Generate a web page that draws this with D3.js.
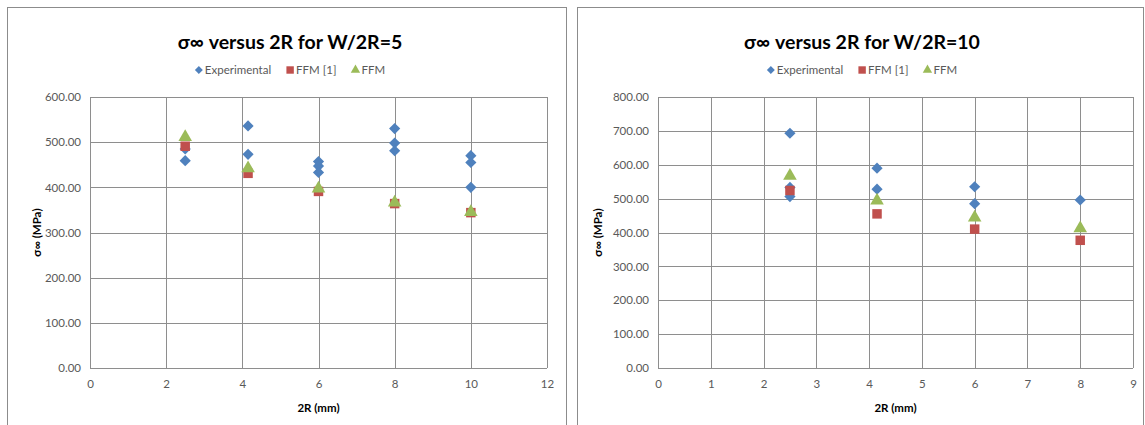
<!DOCTYPE html>
<html>
<head>
<meta charset="utf-8">
<script src="https://cdn.jsdelivr.net/npm/d3@7/dist/d3.min.js"></script>
<style>
  html, body { margin: 0; padding: 0; background: #fff; }
  svg { display: block; }
  text { font-family: Lato, "Open Sans", sans-serif; }
</style>
</head>
<body>
<svg id="chart" width="1145" height="425"></svg>
<script>
// ---- data: W/2R = 5 ----
const seriesNames = ["Experimental", "FFM [1]", "FFM"];
const xTicks5 = [0, 2, 4, 6, 8, 10, 12];
const yTicks5 = [0, 100, 200, 300, 400, 500, 600];
const expX5  = [2.5, 2.5, 4.15, 4.15, 6, 6, 6, 8, 8, 8, 10, 10, 10];
const expY5  = [459, 485, 536, 473, 457, 447, 433, 530, 498, 481, 470, 455, 400];
const ffm1X5 = [2.5, 4.15, 6, 8, 10];
const ffm1Y5 = [491, 431, 391, 364, 344];
const ffmX5  = [2.5, 4.15, 6, 8, 10];
const ffmY5  = [511, 442, 397, 366, 345];

// ---- data: W/2R = 10 ----
const xTicks10 = [0, 1, 2, 3, 4, 5, 6, 7, 8, 9];
const yTicks10 = [0, 100, 200, 300, 400, 500, 600, 700, 800];
const expX10  = [2.5, 2.5, 2.5, 4.15, 4.15, 6, 6, 8];
const expY10  = [693, 533, 506, 590, 528, 535, 485, 496];
const ffm1X10 = [2.5, 4.15, 6, 8];
const ffm1Y10 = [524, 455, 410, 377];
const ffmX10  = [2.5, 4.15, 6, 8];
const ffmY10  = [567, 494, 444, 412];

const colors = ["#4F81BD", "#C0504D", "#9BBB59"];
const shapes = [d3.symbolDiamond2, d3.symbolSquare, d3.symbolTriangle];
const markerArea = [80, 90, 80];
const legendArea = [40, 55, 38];

const svg = d3.select("#chart");
const zip = (xs, ys) => xs.map((x, i) => ({ x, y: ys[i] }));

function drawPanel(cfg) {
  const g = svg.append("g");

  // chart frame
  g.append("rect")
    .attr("x", cfg.frame[0] + 0.5).attr("y", cfg.frame[1] + 0.5)
    .attr("width", cfg.frame[2]).attr("height", cfg.frame[3])
    .attr("fill", "#fff").attr("stroke", "#8c8c8c").attr("stroke-width", 1);

  const x = d3.scaleLinear().domain([cfg.xTicks[0], cfg.xTicks[cfg.xTicks.length - 1]])
    .range([cfg.plot.left, cfg.plot.right]);
  const y = d3.scaleLinear().domain([cfg.yTicks[0], cfg.yTicks[cfg.yTicks.length - 1]])
    .range([cfg.plot.bottom, cfg.plot.top]);

  // gridlines
  const grid = g.append("g").attr("stroke", "#8e8e8e").attr("stroke-width", 1);
  grid.selectAll("line.h").data(cfg.yTicks).join("line")
    .attr("x1", cfg.plot.left).attr("x2", cfg.plot.right)
    .attr("y1", d => Math.round(y(d)) + 0.5).attr("y2", d => Math.round(y(d)) + 0.5);
  grid.selectAll("line.v").data(cfg.xTicks).join("line")
    .attr("y1", cfg.plot.top).attr("y2", cfg.plot.bottom)
    .attr("x1", d => Math.round(x(d)) + 0.5).attr("x2", d => Math.round(x(d)) + 0.5);

  // axes (labels only; lines come from the grid)
  const yAxis = g.append("g")
    .attr("transform", `translate(${cfg.plot.left},0)`)
    .call(d3.axisLeft(y).tickValues(cfg.yTicks).tickFormat(d3.format(".2f")).tickSize(0).tickPadding(9));
  const xAxis = g.append("g")
    .attr("transform", `translate(0,${cfg.plot.bottom})`)
    .call(d3.axisBottom(x).tickValues(cfg.xTicks).tickFormat(d3.format("d")).tickSize(0).tickPadding(12));
  [yAxis, xAxis].forEach(a => {
    a.select(".domain").remove();
    a.selectAll("text").attr("fill", "#595959").style("font-size", "11.5px")
      .style("font-family", "Lato, 'Open Sans', sans-serif");
  });

  // series markers
  cfg.series.forEach((s, i) => {
    g.append("g").selectAll("path").data(s).join("path")
      .attr("transform", d => `translate(${x(d.x)},${y(d.y)})`)
      .attr("d", d3.symbol().type(shapes[i]).size(markerArea[i]))
      .attr("fill", colors[i]);
  });

  // title
  g.append("text")
    .attr("x", cfg.titleX).attr("y", 49)
    .attr("text-anchor", "middle")
    .style("font-size", "19.5px").style("font-weight", "bold").attr("fill", "#000")
    .text(cfg.title);

  // legend
  const leg = g.append("g");
  let cx = 0;
  seriesNames.forEach((name, i) => {
    leg.append("path")
      .attr("transform", `translate(${cx + 4},0)`)
      .attr("d", d3.symbol().type(shapes[i]).size(legendArea[i]))
      .attr("fill", colors[i]);
    const t = leg.append("text")
      .attr("x", cx + 10).attr("y", 4)
      .style("font-size", "11.5px").attr("fill", "#595959")
      .text(name);
    cx += 10 + t.node().getComputedTextLength() + 15;
  });
  // center legend under the title
  const w = cx - 15;
  leg.attr("transform", `translate(${cfg.titleX - w / 2},70)`);

  // axis titles
  g.append("text")
    .attr("x", (cfg.plot.left + cfg.plot.right) / 2).attr("y", 412)
    .attr("text-anchor", "middle")
    .style("font-size", "11.5px").style("font-weight", "bold").attr("fill", "#000")
    .text("2R (mm)");
  g.append("text")
    .attr("transform", `translate(${cfg.yTitleX},${(cfg.plot.top + cfg.plot.bottom) / 2}) rotate(-90)`)
    .attr("text-anchor", "middle")
    .style("font-size", "11.5px").style("font-weight", "bold").attr("fill", "#000")
    .text("σ∞ (MPa)");
}

drawPanel({
  frame: [7, 7, 559, 430],
  plot: { left: 90, right: 547, top: 97, bottom: 368 },
  xTicks: xTicks5, yTicks: yTicks5,
  title: "σ∞ versus 2R for W/2R=5",
  titleX: 290, yTitleX: 41,
  series: [zip(expX5, expY5), zip(ffm1X5, ffm1Y5), zip(ffmX5, ffmY5)]
});

drawPanel({
  frame: [577, 7, 566, 430],
  plot: { left: 658, right: 1133, top: 97, bottom: 368 },
  xTicks: xTicks10, yTicks: yTicks10,
  title: "σ∞ versus 2R for W/2R=10",
  titleX: 862, yTitleX: 602,
  series: [zip(expX10, expY10), zip(ffm1X10, ffm1Y10), zip(ffmX10, ffmY10)]
});
</script>
</body>
</html>
